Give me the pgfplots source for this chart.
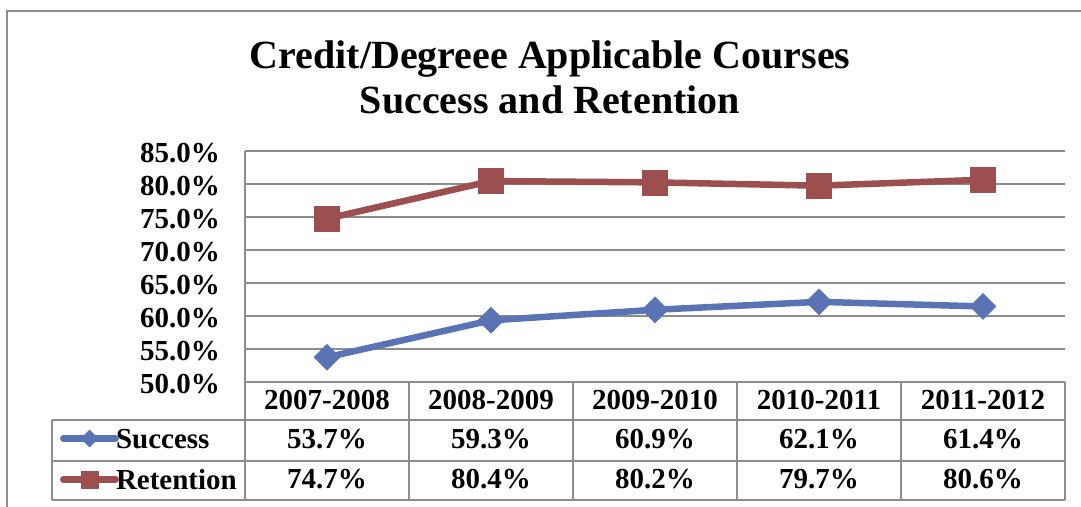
\documentclass[border=0pt]{standalone}
\usepackage{fontspec}
\setmainfont{Liberation Serif}
\usepackage{pgfplots}
\pgfplotsset{compat=1.18}
\definecolor{sblue}{HTML}{5A73B4}
\definecolor{rred}{HTML}{9C4F4E}
\definecolor{gridg}{HTML}{8C8C8C}
\begin{document}
\begin{tikzpicture}[x=1pt,y=1pt]
\useasboundingbox (0,0) rectangle (1081,506);
\draw[gridg, line width=2pt] (7,-10) -- (7,495) -- (1100,495);
\node[font=\bfseries\fontsize{40}{45}\selectfont, anchor=base, inner sep=0pt] at (550,437) {Credit/Degreee Applicable Courses};
\node[font=\bfseries\fontsize{40}{45}\selectfont, anchor=base, inner sep=0pt] at (550,392) {Success and Retention};
\begin{axis}[
  at={(245pt,124.3pt)}, anchor=south west,
  width=820pt, height=231pt, scale only axis,
  xmin=-0.5, xmax=4.5, ymin=50, ymax=85,
  xtick=\empty,
  ytick={50,55,60,65,70,75,80,85},
  yticklabels={50.0\%,55.0\%,60.0\%,65.0\%,70.0\%,75.0\%,80.0\%,85.0\%},
  yticklabel style={font=\bfseries\fontsize{29}{29}\selectfont, inner sep=0pt, xshift=-25pt, yshift=-2pt},
  ytick style={draw=none},
  ymajorgrids, grid style={gridg, line width=2pt},
  axis lines*=left, axis line style={gridg, line width=2pt},
  clip=false,
  legend style={at={(-0.2256,-0.1658)}, anchor=north west, draw=none, fill=none,
    inner sep=0pt, outer sep=0pt, row sep=0pt, column sep=-3pt,
    font=\bfseries\fontsize{29}{29}\selectfont,
    nodes={inner sep=0pt, text height=28pt, text depth=13pt}},
  legend cell align=left,
  legend image code/.code={
    \draw[#1, line width=7pt, mark size=8.5pt, mark repeat=2, mark phase=2] plot coordinates {(0pt,2pt) (26pt,2pt) (52pt,2pt)};
  },
]
\addplot[sblue, line width=6.5pt, line cap=round, line join=round, mark=diamond*,
  mark size=13pt, mark options={solid, xscale=1.333, line width=0.5pt, fill=sblue, draw=sblue}]
  coordinates {(0,53.7) (1,59.3) (2,60.9) (3,62.1) (4,61.4)};
\addlegendentry{Success}
\addplot[rred, line width=6.5pt, line cap=round, line join=round, mark=square*,
  mark size=12.5pt, mark options={solid, line width=0.5pt, fill=rred, draw=rred}]
  coordinates {(0,74.7) (1,80.4) (2,80.2) (3,79.7) (4,80.6)};
\addlegendentry{Retention}
\end{axis}
% data table grid
\draw[gridg, line width=2pt] (52,86) -- (1065,86);
\draw[gridg, line width=2pt] (52,45) -- (1065,45);
\draw[gridg, line width=2pt] (52,6) -- (1065,6);
\draw[gridg, line width=2pt] (52,86) -- (52,6);
\foreach \x in {245,409,573,737,901,1065} {\draw[gridg, line width=2pt] (\x,124.3) -- (\x,6);}
\begin{scope}[every node/.style={font=\bfseries\fontsize{29}{29}\selectfont, anchor=base, inner sep=0pt}]
\node at (327,96) {2007-2008};
\node at (491,96) {2008-2009};
\node at (655,96) {2009-2010};
\node at (819,96) {2010-2011};
\node at (983,96) {2011-2012};
\node at (327,58) {53.7\%};
\node at (491,58) {59.3\%};
\node at (655,58) {60.9\%};
\node at (819,58) {62.1\%};
\node at (983,58) {61.4\%};
\node at (327,18) {74.7\%};
\node at (491,18) {80.4\%};
\node at (655,18) {80.2\%};
\node at (819,18) {79.7\%};
\node at (983,18) {80.6\%};
\end{scope}
\end{tikzpicture}
\end{document}
